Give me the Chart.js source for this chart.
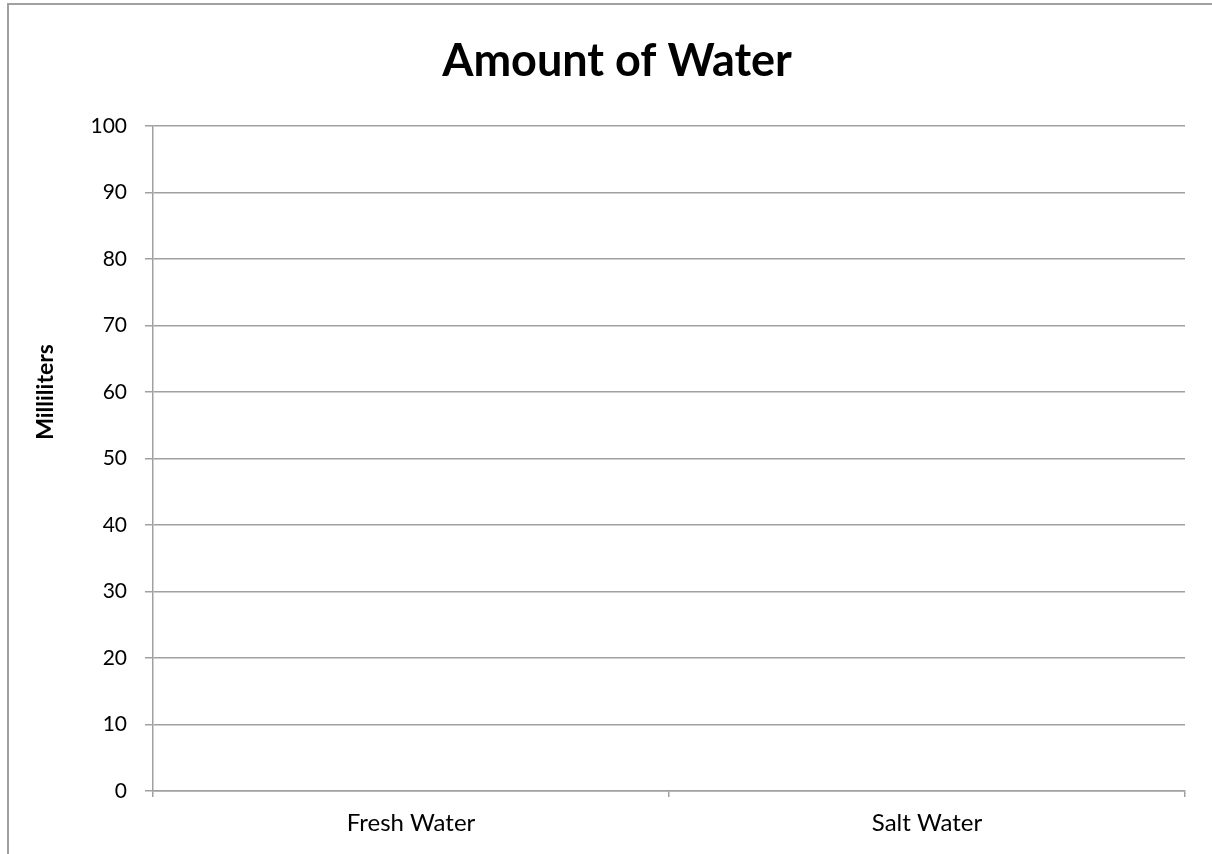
<!DOCTYPE html>
<html>
<head>
<meta charset="utf-8">
<script src="https://cdn.jsdelivr.net/npm/chart.js@4"></script>
<style>
  body { margin: 0; background: #fff; }
  #wrap { width: 1212px; height: 854px; }
</style>
</head>
<body>
<div id="wrap"><canvas id="myChart" width="1212" height="854"></canvas></div>
<script>
var categories = ["Fresh Water", "Salt Water"];
// the reference shows an empty chart: no bars drawn yet
var values = [null, null];
var yMin = 0;
var yMax = 100;
var yStep = 10;
var yTitle = "Milliliters";

var gray = "#a0a0a0";

// outer frame of the chart, plus the y title (it sits above the middle in the original)
var framePlugin = {
  id: "frame",
  beforeDraw: function (chart) {
    var ctx = chart.ctx;
    ctx.save();
    ctx.fillStyle = "#fff";
    ctx.fillRect(0, 0, chart.width, chart.height);
    ctx.strokeStyle = gray;
    ctx.lineWidth = 2;
    ctx.strokeRect(8, 4, chart.width + 20, chart.height + 20);
    ctx.restore();
  },
  afterDraw: function (chart) {
    var ctx = chart.ctx;
    ctx.save();
    ctx.translate(53, 392);
    ctx.rotate(-Math.PI / 2);
    ctx.font = "bold 23px Lato";
    ctx.fillStyle = "#000";
    ctx.textAlign = "center";
    ctx.textBaseline = "alphabetic";
    ctx.fillText(yTitle, 0, 0);
    ctx.restore();
  },
};

var data = {
  labels: categories,
  datasets: [
    {
      label: yTitle,
      backgroundColor: "#4f81bd",
      data: values,
    },
  ],
};

var config = {
  type: "bar",
  data: data,
  plugins: [framePlugin],
  options: {
    responsive: false,
    animation: false,
    layout: {
      padding: { left: 49, right: 27, top: 0, bottom: 0 },
    },
    plugins: {
      legend: { display: false },
      tooltip: { enabled: false },
      title: {
        display: true,
        text: "Amount of Water",
        color: "#000",
        font: { family: "Lato", size: 45, weight: "bold" },
        padding: { top: 34, bottom: 38 },
      },
    },
    scales: {
      x: {
        grid: {
          color: gray,
          lineWidth: 1.5,
          drawOnChartArea: false,
          tickLength: 6,
        },
        border: { color: gray, width: 1.5 },
        ticks: {
          color: "#000",
          padding: 12,
          font: { family: "Lato", size: 24 },
        },
        afterFit: function (scale) {
          scale.height = 63;
        },
      },
      y: {
        min: yMin,
        max: yMax,
        ticks: {
          stepSize: yStep,
          color: "#000",
          padding: 18,
          font: { family: "Lato", size: 21 },
        },
        grid: { color: gray, lineWidth: 1.5, tickLength: 8 },
        border: { color: gray, width: 1.5 },
        afterFit: function (scale) {
          scale.width = 104;
        },
      },
    },
  },
};

var myChart = new Chart(document.getElementById("myChart"), config);
</script>
</body>
</html>
